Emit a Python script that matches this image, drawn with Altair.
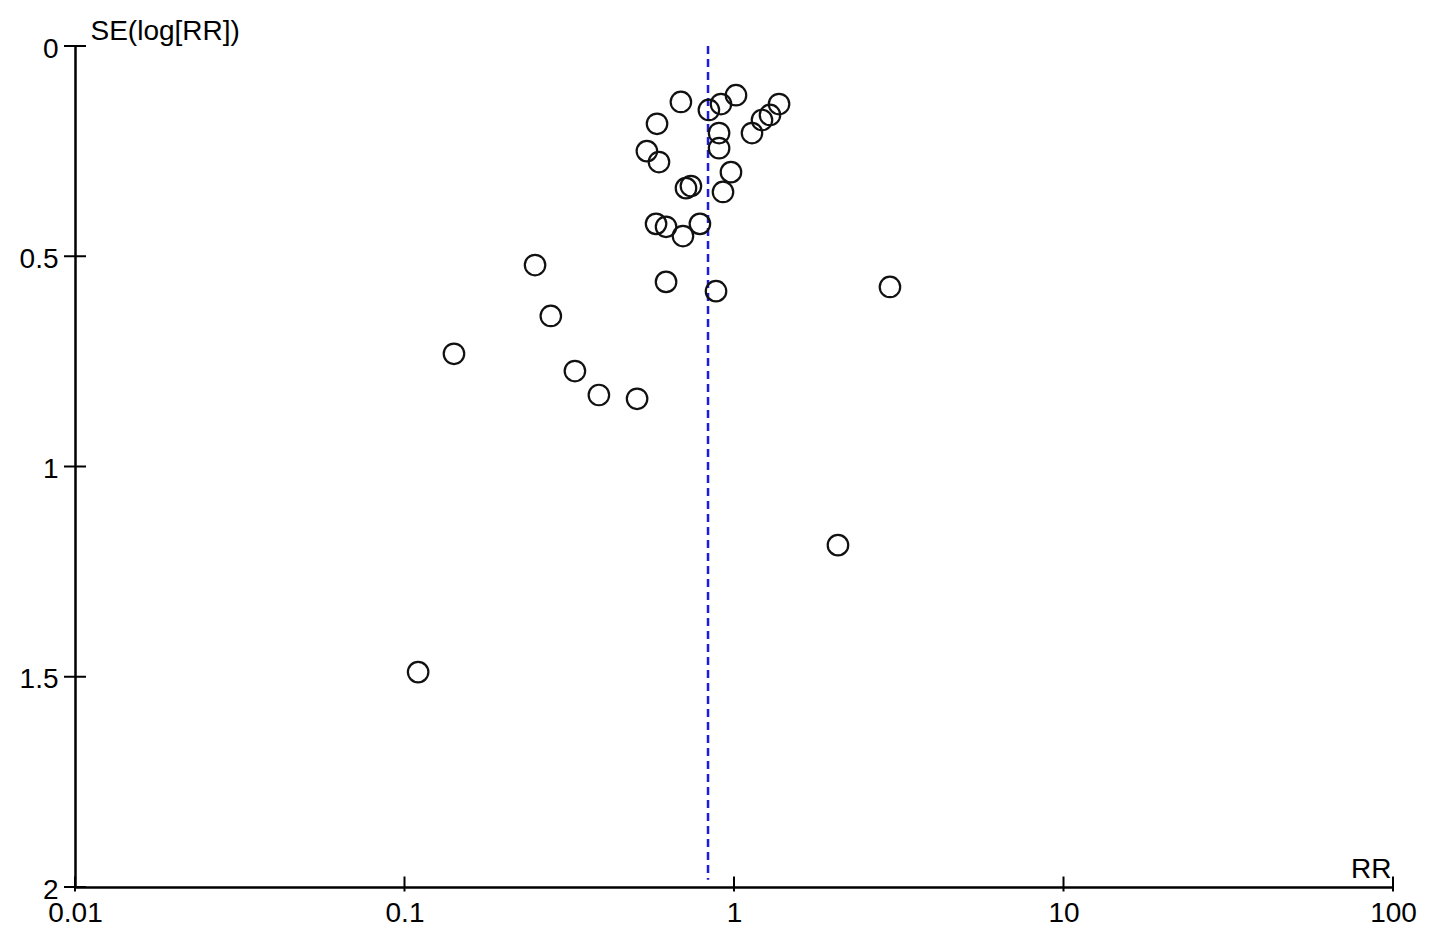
import altair as alt
import pandas as pd

# Study estimates
rr = [0.690, 0.839, 0.913, 1.014, 1.370, 1.286, 1.216, 1.134, 0.584, 0.901,
      0.901, 0.544, 0.592, 0.979, 0.715, 0.740, 0.926, 0.580, 0.622, 0.700,
      0.788, 0.249, 0.622, 0.882, 2.974, 0.278, 0.1413, 0.329, 0.389, 0.508,
      2.068, 0.110]
se = [0.133, 0.152, 0.138, 0.117, 0.138, 0.164, 0.176, 0.207, 0.185, 0.207,
      0.243, 0.250, 0.276, 0.300, 0.338, 0.333, 0.347, 0.423, 0.430, 0.452,
      0.423, 0.521, 0.561, 0.583, 0.573, 0.642, 0.732, 0.773, 0.830, 0.839,
      1.187, 1.489]

pooled_rr = [0.834]
pooled_se_top = [0.0]
pooled_se_bottom = [1.983]

x_ticks = [0.01, 0.1, 1, 10, 100]
y_ticks = [0, 0.5, 1, 1.5, 2]

W, H = 1318, 841
FONT = "Liberation Sans"

pts = pd.DataFrame({"rr": rr, "se": se})
line_df = pd.DataFrame({"rr": pooled_rr, "y0": pooled_se_top, "y1": pooled_se_bottom})
xt_df = pd.DataFrame({"v": x_ticks})
yt_df = pd.DataFrame({"v": y_ticks})

xscale = alt.Scale(type="log", domain=[0.01, 100], nice=False)
yscale = alt.Scale(domain=[0, 2], reverse=True, nice=False, zero=False)

xaxis = alt.Axis(values=x_ticks, format="~g", ticks=False, tickSize=0, grid=False,
                 domainColor="black", domainWidth=2.5,
                 labelFont=FONT, labelFontSize=28, labelColor="black",
                 labelPadding=12, labelFlush=False, labelOverlap=False,
                 title="RR", titleFont=FONT, titleFontSize=28, titleFontWeight="normal",
                 titleColor="black", titleX=W - 2, titleY=-10, titleAlign="right",
                 titleBaseline="alphabetic", titleAngle=0)
yaxis = alt.Axis(values=y_ticks, format="~g", ticks=False, tickSize=0, grid=False,
                 domainColor="black", domainWidth=2.5,
                 labelFont=FONT, labelFontSize=28, labelColor="black",
                 labelPadding=17, labelFlush=False, labelOverlap=False, labelOffset=3,
                 title="SE(log[RR])", titleFont=FONT, titleFontSize=28,
                 titleFontWeight="normal", titleColor="black", titleAngle=0,
                 titleX=15, titleY=-7, titleAlign="left", titleBaseline="alphabetic")

points = alt.Chart(pts).mark_point(shape="circle", filled=False, size=420,
                                   stroke="#111111", strokeWidth=2.2, opacity=1).encode(
    x=alt.X("rr:Q", scale=xscale, axis=xaxis),
    y=alt.Y("se:Q", scale=yscale, axis=yaxis),
)

vline = alt.Chart(line_df).mark_rule(color="#1c1ce0", strokeWidth=2.5, strokeDash=[8, 5]).encode(
    x=alt.X("rr:Q", scale=xscale),
    y=alt.Y("y0:Q", scale=yscale),
    y2="y1:Q",
)

xticks_m = alt.Chart(xt_df).mark_tick(orient="vertical", size=15, thickness=2,
                                      color="black", opacity=1).encode(
    x=alt.X("v:Q", scale=xscale),
    y=alt.value(H - 3),
)

yticks_m = alt.Chart(yt_df).mark_tick(orient="horizontal", size=22, thickness=2,
                                      color="black", opacity=1).encode(
    y=alt.Y("v:Q", scale=yscale),
    x=alt.value(0),
)

chart = alt.layer(vline, points, xticks_m, yticks_m).properties(
    width=W, height=H,
    background="white",
    autosize=alt.AutoSizeParams(type="none"),
    padding={"left": 67, "top": 38, "right": 24, "bottom": 40},
).configure_view(strokeWidth=0, stroke=None)

chart.save("out.html", embed_options={"renderer": "svg", "actions": False})
